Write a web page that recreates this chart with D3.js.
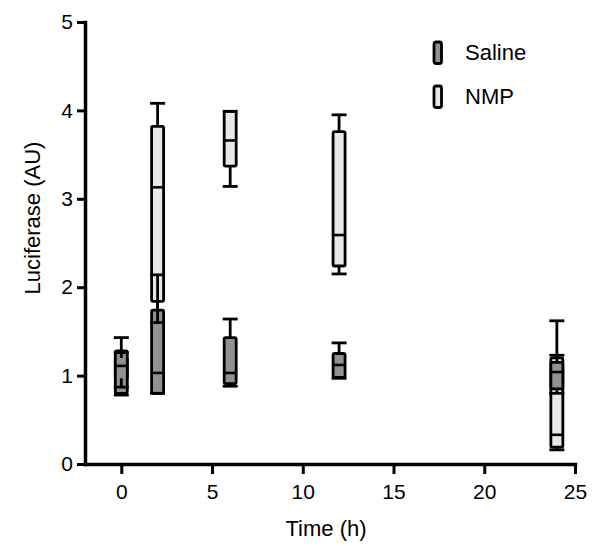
<!DOCTYPE html>
<html>
<head>
<meta charset="utf-8">
<script src="https://cdn.jsdelivr.net/npm/d3@7"></script>
<style>
  body { margin: 0; background: #fff; }
  text { font-family: "Liberation Sans", Arial, sans-serif; fill: #000; }
</style>
</head>
<body>
<div id="chart"></div>
<script>
// time points (h)
const times = [0, 2, 6, 12, 24];
// box stats per time point: [min, q1, median, q3, max]
const saline = [
    [0.78, 0.80, 1.11, 1.28, 1.43],
    [0.80, 0.80, 1.03, 1.74, 2.14],
    [0.88, 0.91, 1.03, 1.43, 1.64],
    [0.97, 0.98, 1.12, 1.25, 1.37],
    [0.80, 0.85, 1.04, 1.15, 1.23]
];
const nmp = [
    [0.87, 0.97, 1.05, 1.20, 1.26],
    [1.60, 1.84, 3.13, 3.82, 4.08],
    [3.14, 3.37, 3.66, 3.99, 3.99],
    [2.15, 2.24, 2.59, 3.76, 3.95],
    [0.16, 0.19, 0.33, 1.20, 1.62]
];
const xTicks = [0, 5, 10, 15, 20, 25];
const yTicks = [0, 1, 2, 3, 4, 5];
const seriesNames = ["Saline", "NMP"];
const seriesFills = ["#919191", "#e8e8e8"];

const width = 598, height = 546;
const margin = {top: 22, right: 23, bottom: 82, left: 85};

const svg = d3.select("#chart").append("svg")
    .attr("width", width)
    .attr("height", height);

const xScale = d3.scaleLinear().domain([-2, 25]).range([margin.left, width - margin.right]);
const yScale = d3.scaleLinear().domain([0, 5]).range([height - margin.bottom, margin.top]);

// axes
const xAxisG = svg.append("g")
    .attr("transform", "translate(0," + yScale(0) + ")")
    .call(d3.axisBottom(xScale).tickValues(xTicks).tickFormat(d3.format("d"))
        .tickSize(10).tickSizeOuter(0).tickPadding(10));
const yAxisG = svg.append("g")
    .attr("transform", "translate(" + xScale(-2) + ",0)")
    .call(d3.axisLeft(yScale).tickValues(yTicks).tickFormat(d3.format("d"))
        .tickSize(8).tickSizeOuter(0).tickPadding(4));

[xAxisG, yAxisG].forEach(g => {
    g.select(".domain").attr("stroke-width", 3.5).attr("stroke-linecap", "square");
    g.selectAll(".tick line").attr("stroke-width", 3);
    g.selectAll(".tick text")
        .style("font-size", "21px")
        .style("font-family", "'Liberation Sans', Arial, sans-serif");
});

// axis titles
svg.append("text")
    .attr("x", (xScale(-2) + xScale(25)) / 2 - 4)
    .attr("y", 536)
    .attr("text-anchor", "middle")
    .style("font-size", "22px")
    .text("Time (h)");
svg.append("text")
    .attr("transform", "translate(40,218) rotate(-90)")
    .attr("text-anchor", "middle")
    .style("font-size", "22px")
    .text("Luciferase (AU)");

const boxW = 12, capW = 15;
const datasets = [
    {name: "NMP", stats: nmp, fill: seriesFills[1]},
    {name: "Saline", stats: saline, fill: seriesFills[0]}
];

// boxes first (NMP under Saline), then whiskers on top
const boxLayer = svg.append("g").attr("class", "boxes");
const whiskerLayer = svg.append("g").attr("class", "whiskers");

datasets.forEach(ds => {
    const rows = ds.stats.map((s, i) => ({t: times[i], min: s[0], q1: s[1], med: s[2], q3: s[3], max: s[4]}));

    const boxG = boxLayer.selectAll(".box" + ds.name)
        .data(rows)
        .join("g")
        .attr("class", "box" + ds.name);
    boxG.append("rect")
        .attr("x", d => xScale(d.t) - boxW / 2)
        .attr("y", d => yScale(d.q3))
        .attr("width", boxW)
        .attr("height", d => yScale(d.q1) - yScale(d.q3))
        .attr("rx", 1.5)
        .attr("fill", ds.fill)
        .attr("stroke", "#000")
        .attr("stroke-width", 2.8);
    boxG.append("line")
        .attr("x1", d => xScale(d.t) - boxW / 2)
        .attr("x2", d => xScale(d.t) + boxW / 2)
        .attr("y1", d => yScale(d.med))
        .attr("y2", d => yScale(d.med))
        .attr("stroke", "#000")
        .attr("stroke-width", 2.6);

    const wG = whiskerLayer.selectAll(".whisker" + ds.name)
        .data(rows)
        .join("g")
        .attr("class", "whisker" + ds.name)
        .attr("stroke", "#000")
        .attr("stroke-width", 2.8);
    // upper
    wG.append("line")
        .attr("x1", d => xScale(d.t)).attr("x2", d => xScale(d.t))
        .attr("y1", d => yScale(d.q3)).attr("y2", d => yScale(d.max));
    wG.append("line")
        .attr("x1", d => xScale(d.t) - capW / 2).attr("x2", d => xScale(d.t) + capW / 2)
        .attr("y1", d => yScale(d.max)).attr("y2", d => yScale(d.max));
    // lower
    wG.append("line")
        .attr("x1", d => xScale(d.t)).attr("x2", d => xScale(d.t))
        .attr("y1", d => yScale(d.q1)).attr("y2", d => yScale(d.min));
    wG.append("line")
        .attr("x1", d => xScale(d.t) - capW / 2).attr("x2", d => xScale(d.t) + capW / 2)
        .attr("y1", d => yScale(d.min)).attr("y2", d => yScale(d.min));
});

// legend
const legend = svg.append("g").attr("class", "legend");
const legG = legend.selectAll("g")
    .data(seriesNames)
    .join("g")
    .attr("transform", (d, i) => "translate(434," + (42 + i * 44) + ")");
legG.append("rect")
    .attr("x", 0).attr("y", 0)
    .attr("width", 7.5).attr("height", 21.5)
    .attr("rx", 2)
    .attr("fill", (d, i) => seriesFills[i])
    .attr("stroke", "#000")
    .attr("stroke-width", 2.8);
legG.append("text")
    .attr("x", 31)
    .attr("y", 18)
    .style("font-size", "22px")
    .text(d => d);
</script>
</body>
</html>
